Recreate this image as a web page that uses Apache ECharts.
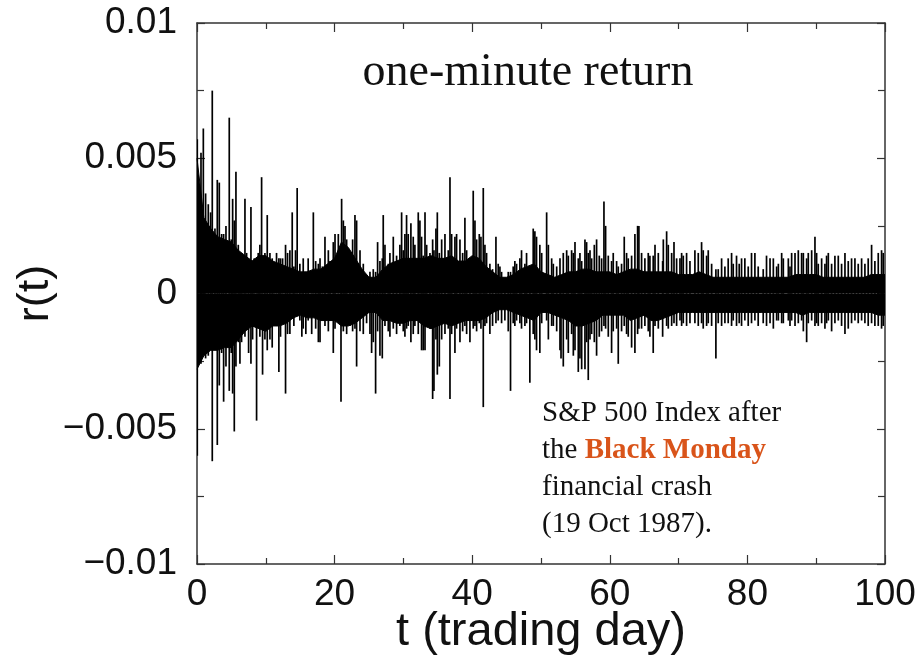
<!DOCTYPE html>
<html>
<head>
<meta charset="utf-8">
<script src="https://cdn.jsdelivr.net/npm/echarts@6/dist/echarts.min.js"></script>
<style>
html,body{margin:0;padding:0;background:#fff;overflow:hidden;}
#c{width:922px;height:660px;}
</style>
</head>
<body>
<div id="c"></div>
<script>
// ---- data ----
const titleText = 'one-minute return';
const xAxisName = 't (trading day)';
const yAxisName = 'r(t)';
const xTickValues = [0, 20, 40, 60, 80, 100];
const xTickLabels = ['0', '20', '40', '60', '80', '100'];
const yTickValues = [-0.01, -0.005, 0, 0.005, 0.01];
const yTickLabels = ['\u22120.01', '\u22120.005', '0', '0.005', '0.01'];
const noteLines = ['S&P 500 Index after', 'the ', 'Black Monday', 'financial crash', '(19 Oct 1987).'];

// dense core of the signal (upper / lower envelope, one value per trading day 0..100)
const coreHi = [0.0050,0.0028,0.0024,0.0021,0.0020,0.0019,0.0016,0.0014,0.0012,0.0014,
0.0014,0.0012,0.0011,0.0010,0.0009,0.0008,0.0008,0.0009,0.0009,0.0011,
0.0013,0.0019,0.0017,0.0013,0.0009,0.0006,0.0006,0.0009,0.0011,0.0012,
0.0013,0.0013,0.0013,0.0013,0.0014,0.0013,0.0013,0.0014,0.0012,0.0012,
0.0014,0.0013,0.0010,0.0008,0.0006,0.0006,0.0007,0.0009,0.0010,0.0011,
0.0008,0.0007,0.0006,0.0007,0.0008,0.0008,0.0009,0.0009,0.0008,0.0008,
0.0008,0.0007,0.0008,0.0009,0.0009,0.0008,0.0008,0.0008,0.0008,0.0008,
0.0007,0.0007,0.0007,0.0008,0.0007,0.0006,0.0006,0.0006,0.0006,0.0006,
0.0006,0.0006,0.0006,0.0006,0.0006,0.0006,0.0006,0.0007,0.0007,0.0007,
0.0007,0.0006,0.0006,0.0006,0.0006,0.0006,0.0006,0.0006,0.0007,0.0007,
0.0007];
const coreLo = [-0.0028,-0.0023,-0.0021,-0.0021,-0.0020,-0.0020,-0.0017,-0.0014,-0.0012,-0.0013,
-0.0014,-0.0012,-0.0012,-0.0011,-0.0009,-0.0008,-0.0009,-0.0009,-0.0010,-0.0010,
-0.0010,-0.0012,-0.0012,-0.0011,-0.0009,-0.0007,-0.0007,-0.0010,-0.0010,-0.0011,
-0.0011,-0.0010,-0.0010,-0.0012,-0.0013,-0.0012,-0.0011,-0.0012,-0.0011,-0.0010,
-0.0010,-0.0010,-0.0009,-0.0007,-0.0006,-0.0006,-0.0007,-0.0008,-0.0009,-0.0010,
-0.0007,-0.0007,-0.0008,-0.0009,-0.0010,-0.0012,-0.0012,-0.0011,-0.0010,-0.0008,
-0.0008,-0.0008,-0.0008,-0.0010,-0.0009,-0.0008,-0.0010,-0.0010,-0.0009,-0.0008,
-0.0007,-0.0007,-0.0007,-0.0007,-0.0007,-0.0007,-0.0007,-0.0007,-0.0007,-0.0007,
-0.0007,-0.0007,-0.0007,-0.0007,-0.0007,-0.0007,-0.0007,-0.0007,-0.0008,-0.0007,
-0.0007,-0.0007,-0.0007,-0.0007,-0.0007,-0.0007,-0.0007,-0.0007,-0.0007,-0.0008,
-0.0008];

// individual one-minute return spikes [trading day, r]
const spikes = [
[0.04,0.0057],[0.04,-0.0060],[0.58,0.0052],[0.58,-0.0026],[0.92,0.0061],
[1.25,0.0037],[1.25,-0.0024],[1.64,0.0033],[1.64,-0.0023],[1.98,0.0030],[1.98,-0.0018],
[2.22,0.0075],[2.22,-0.0062],[2.61,0.0024],[2.61,-0.0017],[2.95,0.0042],[2.95,-0.0056],
[3.24,0.0041],[3.24,-0.0034],[3.58,0.0022],[3.58,-0.0022],[3.87,0.0022],[3.87,-0.0040],
[4.21,0.0025],[4.21,-0.0027],[4.69,0.0065],[4.69,-0.0036],[4.98,0.0020],[4.98,-0.0022],
[5.18,0.0035],[5.18,-0.0037],[5.42,0.0027],[5.42,-0.0051],[5.66,0.0045],[5.66,-0.0027],
[6.00,0.0018],[6.00,-0.0018],[6.24,0.0015],[6.24,-0.0026],[6.48,0.0013],[6.48,-0.0018],
[6.72,-0.0012],[6.97,0.0035],[6.97,-0.0016],[7.21,0.0015],[7.50,0.0013],[7.50,-0.0022],
[7.84,0.0032],[7.84,-0.0026],[8.08,0.0010],[8.08,-0.0017],[8.32,0.0013],[8.66,-0.0047],
[8.90,0.0015],[8.90,-0.0012],[9.14,0.0018],[9.14,-0.0016],[9.39,0.0043],[9.53,-0.0030],
[9.87,0.0015],[9.87,-0.0017],[10.21,0.0029],[10.21,-0.0021],[10.60,0.0015],[10.60,-0.0017],
[10.93,0.0013],[10.93,-0.0020],[11.18,-0.0012],[11.56,0.0015],[11.90,0.0013],[11.90,-0.0029],
[12.14,0.0013],[12.14,-0.0016],[12.44,0.0013],[12.87,0.0018],[12.87,-0.0037],
[13.16,0.0015],[13.16,-0.0015],[13.50,0.0016],[13.50,-0.0015],[13.84,0.0030],
[14.08,0.0010],[14.08,-0.0012],[14.32,0.0016],[14.56,0.0039],[14.95,0.0011],[14.95,-0.0010],
[15.24,-0.0016],[15.44,0.0013],[15.44,-0.0013],[15.82,0.0008],[15.82,-0.0015],
[16.16,0.0013],[16.16,-0.0010],
[16.67,-0.0015],[16.91,0.0030],[17.25,0.0012],[17.25,-0.0013],[17.64,0.0011],[17.64,-0.0018],
[17.88,0.0013],[17.88,-0.0018],[18.22,0.0010],[18.60,0.0021],[18.60,-0.0012],
[19.09,0.0016],[19.09,-0.0014],[19.33,0.0012],[19.33,-0.0010],[19.81,0.0019],[19.81,-0.0022],
[20.06,0.0022],[20.06,-0.0013],[20.54,0.0022],[20.93,0.0015],[20.93,-0.0040],[21.02,0.0035],
[21.27,0.0027],[21.27,-0.0014],[21.51,0.0025],[21.51,-0.0012],[21.75,0.0020],[21.75,-0.0015],
[22.23,0.0015],[22.23,-0.0012],[22.62,0.0020],[22.62,-0.0014],[22.96,0.0029],[22.96,-0.0013],
[23.20,0.0027],[23.20,-0.0027],[23.69,0.0016],[23.69,-0.0014],[24.17,0.0011],[24.17,-0.0015],
[24.65,0.0005],[24.65,-0.0011],[25.14,0.0008],[25.14,-0.0015],[25.38,-0.0022],
[25.62,0.0009],[25.62,-0.0018],[25.96,0.0008],[25.96,-0.0037],[26.25,0.0019],[26.25,-0.0014],
[26.59,0.0012],[26.59,-0.0023],[26.93,0.0013],[26.93,-0.0024],[27.07,0.0029],
[27.32,0.0018],[27.32,-0.0012],[27.80,0.0011],[27.80,-0.0014],[28.04,0.0015],[28.04,-0.0016],
[28.53,0.0021],[28.53,-0.0013],[29.01,0.0014],[29.01,-0.0015],[29.49,0.0018],[29.49,-0.0012],
[29.74,0.0030],[29.98,0.0016],[29.98,-0.0014],[30.22,0.0022],[30.22,-0.0016],
[30.46,0.0029],[30.46,-0.0013],[30.70,0.0022],[30.70,-0.0012],[31.09,0.0026],[31.09,-0.0018],
[31.43,0.0021],[31.43,-0.0015],[31.67,0.0018],[31.67,-0.0012],[32.16,0.0030],[32.16,-0.0015],
[32.40,0.0027],[32.64,0.0021],[32.64,-0.0021],[32.88,0.0014],[32.88,-0.0021],
[33.14,0.0030],[33.14,-0.0021],[33.38,0.0018],[33.38,-0.0012],[33.86,0.0015],[33.86,-0.0013],
[34.25,0.0020],[34.25,-0.0039],[34.44,0.0016],[34.44,-0.0036],[34.73,0.0024],[34.73,-0.0017],
[34.93,0.0030],[34.93,-0.0030],[35.22,0.0015],[35.22,-0.0027],[35.56,0.0020],[35.56,-0.0017],
[36.04,0.0022],[36.04,-0.0015],[36.52,0.0016],[36.52,-0.0013],[36.77,0.0043],[36.77,-0.0039],
[37.01,0.0022],[37.01,-0.0015],[37.49,0.0021],[37.49,-0.0022],[37.73,0.0022],[37.73,-0.0013],
[38.22,0.0020],[38.22,-0.0018],[38.61,0.0015],[38.61,-0.0014],[38.94,0.0028],[38.94,-0.0012],
[39.19,0.0016],[39.19,-0.0015],[39.67,0.0013],[39.67,-0.0018],[40.15,0.0038],[40.15,-0.0013],
[40.40,0.0027],[40.40,-0.0012],[40.64,0.0020],[40.64,-0.0014],[41.03,0.0022],[41.03,-0.0011],
[41.27,0.0021],[41.27,-0.0013],[41.61,0.0039],[41.61,-0.0042],[41.85,0.0018],[41.85,-0.0012],
[42.09,0.0015],[42.09,-0.0011],[42.57,0.0011],[42.57,-0.0015],[42.96,0.0009],[42.96,-0.0012],
[43.45,0.0021],[43.45,-0.0011],[43.78,0.0011],[43.78,-0.0010],[44.03,0.0010],
[44.27,0.0008],[44.27,-0.0011],[44.75,0.0005],[44.75,-0.0010],[45.24,0.0008],[45.24,-0.0014],
[45.57,0.0008],[45.57,-0.0036],[45.96,0.0010],[45.96,-0.0011],[46.20,0.0012],[46.20,-0.0012],
[46.45,0.0011],[46.45,-0.0010],[46.93,0.0013],[46.93,-0.0011],[47.17,0.0016],[47.17,-0.0013],
[47.66,0.0011],[47.66,-0.0012],[47.90,0.0015],[47.90,-0.0011],[48.38,0.0010],[48.38,-0.0033],
[48.87,0.0024],[48.87,-0.0015],[49.11,0.0023],[49.11,-0.0017],[49.35,0.0021],[49.35,-0.0021],
[49.83,0.0018],[49.83,-0.0022],
[50.10,0.0015],[50.10,-0.0011],[50.82,0.0030],[50.82,-0.0010],[51.07,0.0018],[51.07,-0.0017],
[51.55,0.0013],[51.55,-0.0012],[51.79,0.0011],[51.79,-0.0012],[52.28,0.0010],[52.28,-0.0014],
[52.76,0.0013],[52.76,-0.0021],[52.91,-0.0024],[53.24,0.0015],[53.24,-0.0027],
[53.73,0.0016],[53.73,-0.0017],[53.97,0.0014],[53.97,-0.0022],[54.45,0.0016],[54.45,-0.0015],
[54.70,0.0015],[54.70,-0.0023],[54.94,0.0019],[54.94,-0.0021],[55.42,0.0013],[55.42,-0.0029],
[55.66,0.0015],[55.66,-0.0024],[55.91,0.0012],[55.91,-0.0028],[56.39,0.0020],[56.39,-0.0028],
[56.63,0.0019],[56.63,-0.0018],[56.87,0.0015],[56.87,-0.0032],[57.12,0.0016],[57.12,-0.0017],
[57.36,0.0013],[57.36,-0.0015],[57.75,0.0018],[57.75,-0.0018],[58.08,0.0020],[58.08,-0.0023],
[58.47,0.0014],[58.47,-0.0016],[58.81,0.0013],[58.81,-0.0014],[59.15,0.0034],[59.15,-0.0012],
[59.39,0.0025],[59.39,-0.0013],[59.78,0.0014],[59.78,-0.0016],[60.26,0.0012],[60.26,-0.0022],
[60.50,0.0015],[60.50,-0.0014],[60.99,0.0012],[60.99,-0.0013],[61.23,0.0010],[61.23,-0.0026],
[61.71,0.0011],[61.71,-0.0014],[62.10,0.0021],[62.10,-0.0012],[62.44,0.0015],[62.44,-0.0015],
[62.68,0.0013],[62.68,-0.0016],[63.17,0.0014],[63.17,-0.0020],[63.65,0.0022],[63.65,-0.0022],
[64.04,0.0025],[64.04,-0.0015],[64.23,0.0025],[64.23,-0.0013],[64.62,0.0015],[64.62,-0.0013],
[65.10,0.0013],[65.10,-0.0012],[65.59,0.0015],[65.59,-0.0014],[65.83,0.0014],[65.83,-0.0016],
[66.31,0.0014],[66.31,-0.0022],
[66.57,0.0018],[66.57,-0.0012],[67.05,0.0015],[67.05,-0.0013],[67.68,0.0012],[67.68,-0.0016],
[67.78,0.0020],[68.26,0.0023],[68.26,-0.0012],[68.50,0.0018],[68.50,-0.0013],
[68.99,0.0015],[68.99,-0.0012],[69.33,0.0019],[69.33,-0.0011],[69.71,0.0013],[69.71,-0.0012],
[70.20,0.0013],[70.20,-0.0010],[70.44,0.0015],[70.44,-0.0012],[70.68,0.0014],[70.68,-0.0011],
[71.16,0.0015],[71.16,-0.0012],[71.65,0.0012],[71.65,-0.0011],[72.37,0.0016],[72.37,-0.0011],
[72.86,0.0015],[72.86,-0.0012],[73.34,0.0019],[73.34,-0.0011],[73.58,0.0016],[73.58,-0.0013],
[74.07,0.0014],[74.07,-0.0012],[74.31,0.0016],[74.31,-0.0011],[74.80,0.0011],[74.80,-0.0012],
[75.42,0.0009],[75.42,-0.0024],[75.76,0.0009],[75.76,-0.0011],[76.25,0.0013],[76.25,-0.0012],
[76.73,0.0010],[76.73,-0.0011],[77.21,0.0013],[77.21,-0.0011],[77.70,0.0015],[77.70,-0.0012],
[77.94,0.0011],[77.94,-0.0010],[78.42,0.0014],[78.42,-0.0012],[78.81,0.0011],[78.81,-0.0011],
[79.15,0.0013],[79.15,-0.0012],[79.63,0.0013],[79.63,-0.0010],[80.12,0.0010],[80.12,-0.0012],
[80.60,0.0015],[80.60,-0.0011],[81.09,0.0015],[81.09,-0.0010],[81.57,0.0010],[81.57,-0.0012],
[82.30,0.0009],[82.30,-0.0011],[82.78,0.0014],[82.78,-0.0012],
[83.29,0.0013],[83.29,-0.0011],[83.77,0.0013],[83.77,-0.0013],[84.25,0.0010],[84.25,-0.0010],
[84.50,0.0011],[84.50,-0.0010],[84.98,0.0015],[84.98,-0.0011],[85.22,0.0013],[85.22,-0.0011],
[85.95,0.0013],[85.95,-0.0010],[86.19,0.0010],[86.19,-0.0012],[86.43,0.0015],[86.43,-0.0010],
[86.92,0.0015],[86.92,-0.0012],[87.40,0.0016],[87.40,-0.0011],[87.88,0.0015],[87.88,-0.0010],
[88.13,0.0015],[88.13,-0.0014],[88.61,0.0013],[88.61,-0.0018],[88.85,0.0015],[88.85,-0.0011],
[89.34,0.0016],[89.34,-0.0010],[89.82,0.0021],[89.82,-0.0012],[90.06,0.0015],[90.06,-0.0011],
[90.30,0.0011],[90.30,-0.0012],[90.79,0.0013],[90.79,-0.0011],[91.27,0.0011],[91.27,-0.0013],
[91.51,0.0014],[91.51,-0.0011],[91.76,0.0015],[91.76,-0.0010],[92.24,0.0011],[92.24,-0.0014],
[92.72,0.0014],[92.72,-0.0011],[93.21,0.0014],[93.21,-0.0010],[93.69,0.0011],[93.69,-0.0012],
[94.18,0.0015],[94.18,-0.0015],[94.66,0.0012],[94.66,-0.0013],[95.14,0.0013],[95.14,-0.0011],
[95.63,0.0013],[95.63,-0.0010],[96.11,0.0011],[96.11,-0.0011],[96.60,0.0013],[96.60,-0.0010],
[97.08,0.0011],[97.08,-0.0011],[97.56,0.0013],[97.56,-0.0012],[98.05,0.0018],[98.05,-0.0011],
[98.53,0.0012],[98.53,-0.0012],[99.02,0.0015],[99.02,-0.0012],[99.50,0.0016],[99.50,-0.0013],
[99.74,0.0015],[99.74,-0.0012]
];

// ---- chart ----
const chart = echarts.init(document.getElementById('c'), null, {renderer: 'canvas'});
const sansFont = '"Liberation Sans", Arial, Helvetica, sans-serif';
const serifFont = '"Liberation Serif", "Times New Roman", serif';
const axisColor = '#333';

function labelFor(values, labels) {
  return function (v) {
    for (let i = 0; i < values.length; i++) {
      if (Math.abs(values[i] - v) < 1e-9) return labels[i];
    }
    return '';
  };
}

const commonX = {
  type: 'value', min: 0, max: 100, interval: 20,
  axisLine: {show: true, onZero: false, lineStyle: {color: axisColor, width: 1.5}},
  axisTick: {show: true, inside: true, length: 9, lineStyle: {color: axisColor, width: 1.2}},
  minorTick: {show: true, splitNumber: 2, length: 6, lineStyle: {color: axisColor, width: 1.2}},
  splitLine: {show: false}, minorSplitLine: {show: false}
};
const commonY = {
  type: 'value', min: -0.01, max: 0.01, interval: 0.005,
  axisLine: {show: true, onZero: false, lineStyle: {color: axisColor, width: 1.5}},
  axisTick: {show: true, inside: true, length: 8, lineStyle: {color: axisColor, width: 1.2}},
  minorTick: {show: true, splitNumber: 2, length: 7, lineStyle: {color: axisColor, width: 1.2}},
  splitLine: {show: false}, minorSplitLine: {show: false}
};

const option = {
  backgroundColor: '#ffffff',
  animation: false,
  grid: {left: 197, right: 37, top: 23, bottom: 96, containLabel: false, outerBoundsMode: 'none'},
  xAxis: [
    Object.assign({}, commonX, {
      position: 'bottom',
      name: xAxisName, nameLocation: 'middle', nameGap: 45, nameMoveOverlap: false,
      nameTextStyle: {fontFamily: sansFont, fontSize: 47, color: '#111'},
      axisLabel: {show: true, margin: 12, fontFamily: sansFont, fontSize: 37, color: '#111',
        formatter: labelFor(xTickValues, xTickLabels)}
    }),
    Object.assign({}, commonX, {position: 'top', axisLabel: {show: false}})
  ],
  yAxis: [
    Object.assign({}, commonY, {
      position: 'left',
      name: yAxisName, nameLocation: 'middle', nameGap: 139, nameRotate: 90, nameMoveOverlap: false,
      nameTextStyle: {fontFamily: sansFont, fontSize: 45, color: '#111'},
      axisLabel: {show: true, margin: 20, fontFamily: sansFont, fontSize: 37, color: '#111',
        formatter: labelFor(yTickValues, yTickLabels)}
    }),
    Object.assign({}, commonY, {position: 'right', axisLabel: {show: false}})
  ],
  series: [
    {
      type: 'line', xAxisIndex: 0, yAxisIndex: 0,
      data: coreHi.map((v, i) => [i, v]),
      showSymbol: false, symbol: 'none',
      lineStyle: {color: '#000', width: 1},
      areaStyle: {color: '#000', opacity: 1},
      z: 2
    },
    {
      type: 'line', xAxisIndex: 0, yAxisIndex: 0,
      data: coreLo.map((v, i) => [i, v]),
      showSymbol: false, symbol: 'none',
      lineStyle: {color: '#000', width: 1},
      areaStyle: {color: '#000', opacity: 1},
      z: 2
    },
    {
      type: 'custom', xAxisIndex: 0, yAxisIndex: 0,
      data: spikes,
      clip: true,
      renderItem: function (params, api) {
        const p0 = api.coord([api.value(0), 0]);
        const p1 = api.coord([api.value(0), api.value(1)]);
        return {
          type: 'line',
          shape: {x1: p0[0], y1: p0[1], x2: p1[0], y2: p1[1]},
          style: {stroke: '#000', lineWidth: 1.7}
        };
      },
      z: 3
    }
  ],
  graphic: [
    {
      type: 'text', x: 528, y: 73,
      style: {text: titleText, x: 0, y: 0, textAlign: 'center', textVerticalAlign: 'middle',
        font: '46px ' + serifFont, fill: '#111'},
      z: 10
    },
    {
      type: 'text', x: 542, y: 395,
      style: {
        text: '{n|' + noteLines[0] + '}\n{n|' + noteLines[1] + '}{b|' + noteLines[2] + '}\n{n|' + noteLines[3] + '}\n{n|' + noteLines[4] + '}',
        textVerticalAlign: 'top',
        rich: {
          n: {fontFamily: serifFont, fontSize: 29, lineHeight: 37, fill: '#111', color: '#111'},
          b: {fontFamily: serifFont, fontSize: 29, lineHeight: 37, fontWeight: 'bold', fill: '#d9541a', color: '#d9541a'}
        }
      },
      z: 10
    }
  ]
};
chart.setOption(option);
</script>
</body>
</html>
